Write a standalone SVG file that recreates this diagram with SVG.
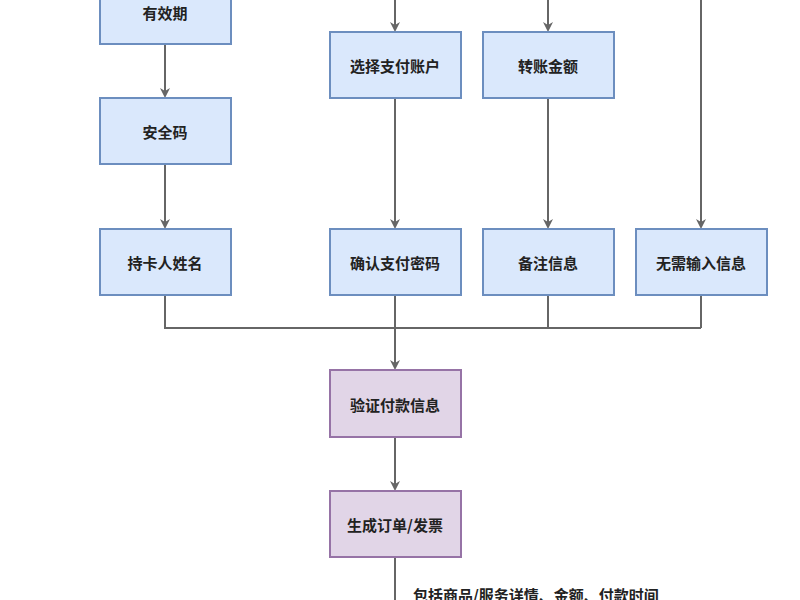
<svg xmlns="http://www.w3.org/2000/svg" width="800" height="600" viewBox="0 0 800 600">
<style>
.b rect{fill:#dae8fc;stroke:#6c8ebf;stroke-width:2}
.p rect{fill:#e1d5e7;stroke:#9673a6;stroke-width:2}
text{font-family:"Noto Sans CJK SC","Noto Sans",sans-serif;font-size:15px;font-weight:bold;fill:#222;text-anchor:middle;dominant-baseline:central}
.c path{fill:none;stroke:#666;stroke-width:2}
</style>
<defs><marker id="a" markerWidth="10" markerHeight="10" refX="8" refY="5" orient="auto" markerUnits="userSpaceOnUse"><path d="M0,0 L10,5 L0,10 L3,5 Z" fill="#666"/></marker></defs>
<rect width="800" height="600" fill="#fff"/>
<g class="c">
<path d="M165,44 V96" marker-end="url(#a)"/>
<path d="M165,164 V227" marker-end="url(#a)"/>
<path d="M395,0 V30" marker-end="url(#a)"/>
<path d="M548,0 V30" marker-end="url(#a)"/>
<path d="M395,98 V227" marker-end="url(#a)"/>
<path d="M548,98 V227" marker-end="url(#a)"/>
<path d="M701,0 V227" marker-end="url(#a)"/>
<path d="M165,295 V328 H701 M548,295 V328 M701,295 V328"/>
<path d="M395,295 V368" marker-end="url(#a)"/>
<path d="M395,437 V489" marker-end="url(#a)"/>
<path d="M395,557 V600"/>
</g>
<g id="n1" class="b"><rect x="100" y="-22" width="131" height="66"/><text x="165" y="12">有效期</text></g>
<g id="n2" class="b"><rect x="100" y="98" width="131" height="66"/><text x="165" y="131">安全码</text></g>
<g id="n3" class="b"><rect x="100" y="229" width="131" height="66"/><text x="165" y="262">持卡人姓名</text></g>
<g id="n4" class="b"><rect x="330" y="32" width="131" height="66"/><text x="395" y="65">选择支付账户</text></g>
<g id="n5" class="b"><rect x="483" y="32" width="131" height="66"/><text x="548" y="65">转账金额</text></g>
<g id="n6" class="b"><rect x="330" y="229" width="131" height="66"/><text x="395" y="262">确认支付密码</text></g>
<g id="n7" class="b"><rect x="483" y="229" width="131" height="66"/><text x="548" y="262">备注信息</text></g>
<g id="n8" class="b"><rect x="636" y="229" width="131" height="66"/><text x="701" y="262">无需输入信息</text></g>
<g id="n9" class="p"><rect x="330" y="370" width="131" height="67"/><text x="395" y="404">验证付款信息</text></g>
<g id="n10" class="p"><rect x="330" y="491" width="131" height="66"/><text x="395" y="524">生成订单/发票</text></g>
<text x="413" y="594" style="text-anchor:start">包括商品/服务详情、金额、付款时间</text>
</svg>
